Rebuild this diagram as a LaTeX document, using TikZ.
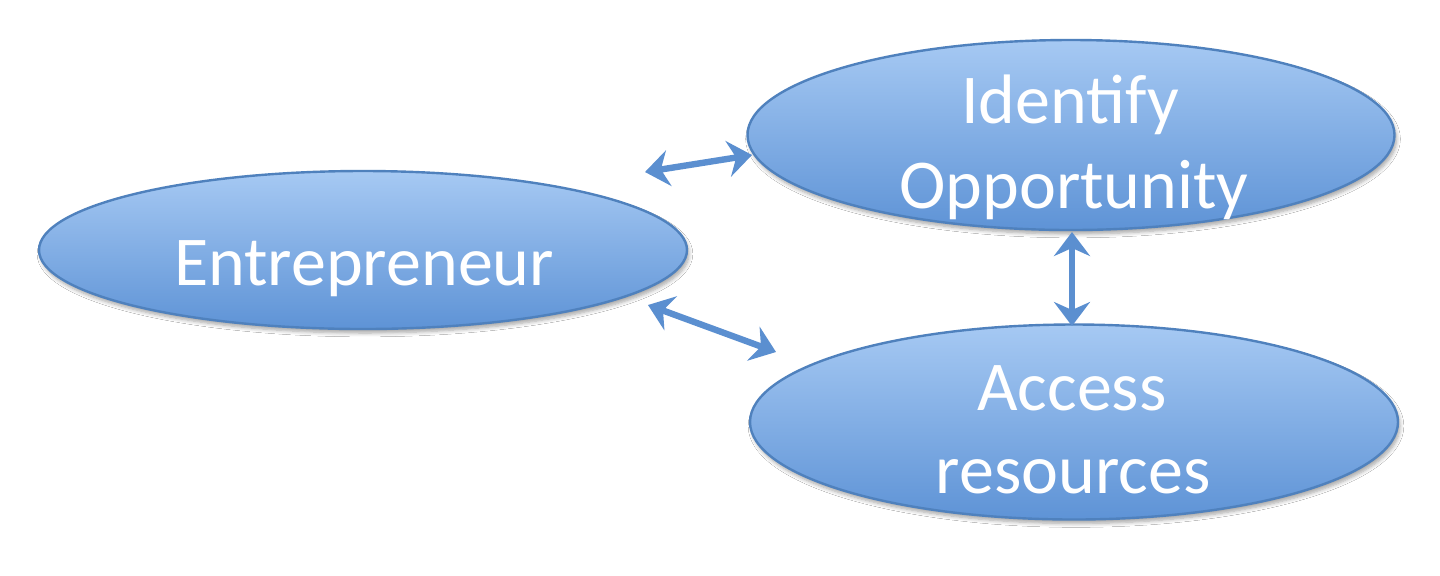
\documentclass[tikz,border=0pt]{standalone}
\usepackage{fontspec}
\setmainfont{Carlito}
\usetikzlibrary{shapes.geometric,arrows.meta,shadows.blur}
\definecolor{topblue}{HTML}{A6C9F3}
\definecolor{botblue}{HTML}{5E93D6}
\definecolor{edgeblue}{HTML}{4F81BD}
\definecolor{arrowblue}{HTML}{5B8FD0}
\tikzset{
  bubble/.style={ellipse, draw=edgeblue, line width=1.2pt, top color=topblue, bottom color=botblue,
    blur shadow={shadow xshift=1pt, shadow yshift=-2pt, shadow blur steps=6, shadow opacity=35},
    inner sep=0pt},
  lbl/.style={anchor=base, text=white, inner sep=0pt, font=\fontsize{35}{42}\selectfont},
  link/.style={draw=arrowblue, line width=3.2pt, {Stealth[length=12pt,width=18pt,inset=4pt]}-{Stealth[length=12pt,width=18pt,inset=4pt]}}
}
\begin{document}
\begin{tikzpicture}[x=0.5pt,y=-0.5pt]
\useasboundingbox (0,0) rectangle (1440,575);
\fill[white] (0,0) rectangle (1440,575);
\node[bubble, minimum width=324pt, minimum height=79pt] (ent) at (363,250) {};
\node[bubble, minimum width=323.5pt, minimum height=95pt] (idf) at (1071,135) {};
\node[bubble, minimum width=324pt, minimum height=97.5pt] (acc) at (1074,422) {};
\node[lbl] (entt) at (364,285) {Entrepreneur};
\node[lbl] (idft1) at (1070,123) {Identify};
\node[lbl] (idft2) at (1074,208) {Opportunity};
\node[lbl] (acct1) at (1072,410) {Access};
\node[lbl] (acct2) at (1073,493) {resources};
\coordinate (a1) at (645,172);
\coordinate (a2) at (752,155);
\coordinate (b1) at (648,305);
\coordinate (b2) at (776,352);
\coordinate (c1) at (1072,232);
\coordinate (c2) at (1072,326);
\draw[link] (a1) -- (a2);
\draw[link] (b1) -- (b2);
\draw[link] (c1) -- (c2);
\end{tikzpicture}
\end{document}
